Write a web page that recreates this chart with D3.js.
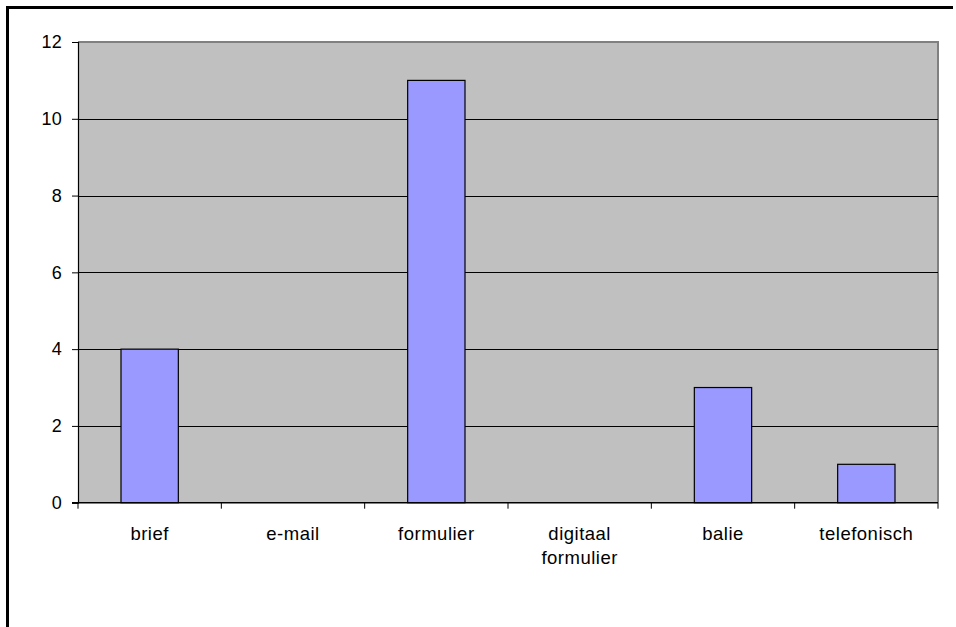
<!DOCTYPE html>
<html>
<head>
<meta charset="utf-8">
<script src="https://cdn.jsdelivr.net/npm/d3@7"></script>
<style>
  html, body { margin: 0; padding: 0; background: #fff; }
  svg { display: block; font-family: "Liberation Sans", Arial, sans-serif; }
</style>
</head>
<body>
<svg id="chart" width="956" height="627"></svg>
<script>
// Kanalen waarlangs aanvragen binnenkwamen
const categories = ["brief", "e-mail", "formulier", "digitaal formulier", "balie", "telefonisch"];
const counts = [4, 0, 11, 0, 3, 1];
const yTicks = [0, 2, 4, 6, 8, 10, 12];

const FONT = "Liberation Sans, Arial, sans-serif";
const svg = d3.select("#chart");
const plot = { left: 78, top: 42, right: 938, bottom: 502.7 };

// outer frame (top and left edges)
svg.append("path")
  .attr("d", "M7.5,627 V7.5 H953")
  .attr("fill", "none")
  .attr("stroke", "#000")
  .attr("stroke-width", 3);

const x = d3.scaleBand()
  .domain(categories)
  .range([plot.left, plot.right])
  .paddingInner(0.6)
  .paddingOuter(0.3);

const xOuter = d3.scaleBand()
  .domain(categories)
  .range([plot.left, plot.right]);

const y = d3.scaleLinear()
  .domain([0, 12])
  .range([plot.bottom, plot.top]);

// plot background
svg.append("rect")
  .attr("x", plot.left).attr("y", plot.top)
  .attr("width", plot.right - plot.left)
  .attr("height", plot.bottom - plot.top)
  .attr("fill", "#C0C0C0");

// plot border top/right
svg.append("path")
  .attr("d", `M${plot.left},${plot.top} H${plot.right} V${plot.bottom}`)
  .attr("fill", "none")
  .attr("stroke", "#808080")
  .attr("stroke-width", 2);

// gridlines
svg.append("g")
  .selectAll("line")
  .data(yTicks.filter(t => t > 0 && t < 12))
  .join("line")
  .attr("x1", plot.left).attr("x2", plot.right)
  .attr("y1", d => Math.round(y(d)) + 0.5)
  .attr("y2", d => Math.round(y(d)) + 0.5)
  .attr("stroke", "#000")
  .attr("stroke-width", 1);

// bars
svg.append("g")
  .selectAll("rect")
  .data(categories.map((c, i) => ({ c, v: counts[i] })).filter(d => d.v > 0))
  .join("rect")
  .attr("x", d => x(d.c))
  .attr("y", d => y(d.v))
  .attr("width", x.bandwidth())
  .attr("height", d => y(0) - y(d.v))
  .attr("fill", "#9999FF")
  .attr("stroke", "#000")
  .attr("stroke-width", 1.2);

// y axis
const yAxis = svg.append("g")
  .attr("transform", `translate(${plot.left},0)`)
  .call(d3.axisLeft(y).tickValues(yTicks).tickSize(6).tickPadding(10).tickFormat(d3.format("d")));
yAxis.attr("font-family", FONT).attr("font-size", 18);
yAxis.select(".domain").attr("stroke", "#000").attr("stroke-width", 1.2);
yAxis.selectAll(".tick line").attr("stroke", "#000");
yAxis.selectAll(".tick text")
  .attr("fill", "#000")
  .attr("letter-spacing", 0.2);

// x axis: ticks at category boundaries
const xAxis = svg.append("g")
  .attr("transform", `translate(0,${plot.bottom})`)
  .attr("font-family", FONT);
xAxis.append("line")
  .attr("x1", plot.left - 6).attr("x2", plot.right)
  .attr("y1", 0).attr("y2", 0)
  .attr("stroke", "#000").attr("stroke-width", 1.5);
const bounds = categories.map(c => xOuter(c)).concat([plot.right]);
xAxis.selectAll("line.tick")
  .data(bounds)
  .join("line")
  .attr("class", "tick")
  .attr("x1", d => d).attr("x2", d => d)
  .attr("y1", 0).attr("y2", 6)
  .attr("stroke", "#000");

// category labels, wrapped onto two lines where needed
const lbl = xAxis.selectAll("text.cat")
  .data(categories)
  .join("text")
  .attr("class", "cat")
  .attr("text-anchor", "middle")
  .attr("font-size", 18.5)
  .attr("letter-spacing", 0.5)
  .attr("fill", "#000")
  .attr("x", d => xOuter(d) + xOuter.bandwidth() / 2)
  .attr("y", 37.5);
lbl.each(function(d) {
  const words = d.split(" ");
  const t = d3.select(this);
  words.forEach((w, i) => {
    t.append("tspan")
      .attr("x", xOuter(d) + xOuter.bandwidth() / 2)
      .attr("dy", i === 0 ? 0 : 24)
      .text(w);
  });
});
</script>
</body>
</html>
